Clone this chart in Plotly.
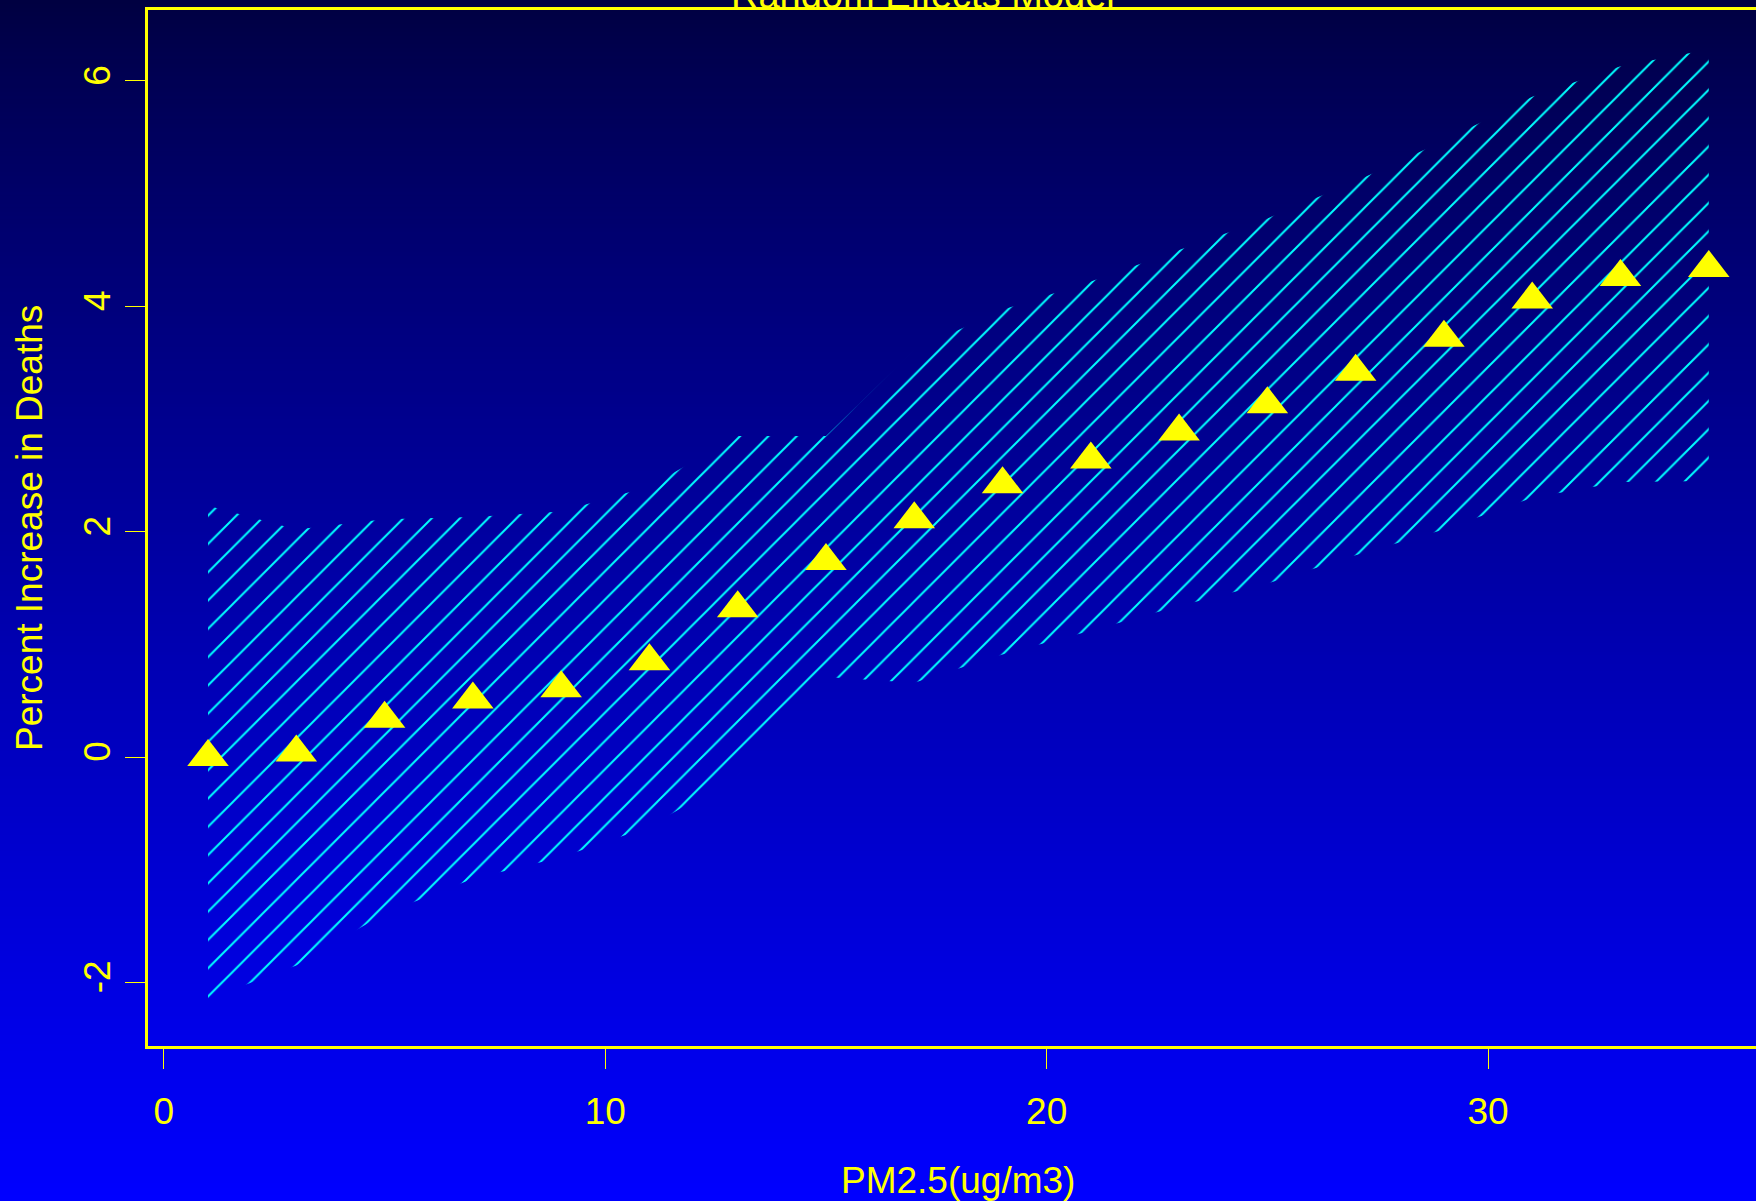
import plotly.graph_objects as go

# ---------------- data ----------------
pm25 = [1, 3, 5, 7, 9, 11, 13, 15, 17, 19, 21, 23, 25, 27, 29, 31, 33, 35]
pct_increase = [0.0, 0.04, 0.34, 0.51, 0.61, 0.85, 1.32, 1.74, 2.11, 2.42,
                2.64, 2.89, 3.13, 3.42, 3.72, 4.06, 4.26, 4.34]
upper_ci = [2.23, 2.02, 2.11, 2.13, 2.18, 2.40, 2.85, 2.85, 3.61, 3.97,
            4.22, 4.50, 4.78, 5.11, 5.47, 5.86, 6.13, 6.28]
lower_ci = [-2.15, -1.85, -1.39, -1.08, -0.89, -0.62, -0.16, 0.71, 0.66, 0.91,
            1.12, 1.34, 1.54, 1.79, 2.02, 2.30, 2.44, 2.45]
x_ticks = [0, 10, 20, 30]
y_ticks = [-2, 0, 2, 4, 6]

title_text = "Random Effects Model"
x_title = "PM2.5(ug/m3)"
y_title = "Percent Increase in Deaths"

# ---------------- layout geometry ----------------
W, H = 1756, 1201
ML, MR, MT, MB = 148, 0, 10, 155
PLOT_H = H - MT - MB
PLOT_W = W - ML - MR
YELLOW = "#FFFF00"
CYAN = "#00FFFF"
FONT = "Liberation Sans, Arial, Helvetica, sans-serif"

fig = go.Figure()

# confidence band (hatched polygon)
fig.add_trace(go.Scatter(
    x=pm25 + pm25[::-1],
    y=upper_ci + lower_ci[::-1],
    fill="toself",
    mode="none",
    fillcolor="rgba(0,0,0,0)",
    fillpattern=dict(shape="/", fgcolor=CYAN, bgcolor="rgba(0,0,0,0)",
                     size=20, solidity=0.1, fgopacity=1),
    hoverinfo="skip",
    showlegend=False,
))

# point estimates
fig.add_trace(go.Scatter(
    x=pm25, y=pct_increase, mode="markers",
    marker=dict(symbol="triangle-up", size=36, color=YELLOW, line=dict(width=0)),
    showlegend=False,
))

# ---------------- background gradient ----------------
shapes = []
band = 4
def px_to_paper_y(py):
    return (H - MB - py) / PLOT_H
for py in range(0, H, band):
    t = (py + band / 2) / H
    b = int(round(64 + 191 * (t ** 0.85)))
    shapes.append(dict(
        type="rect", xref="paper", yref="paper", layer="below",
        x0=-ML / PLOT_W - 0.01, x1=1.01,
        y0=px_to_paper_y(py + band + 0.5), y1=px_to_paper_y(py - 0.5),
        fillcolor=f"rgb(0,0,{b})", line=dict(width=0),
    ))

annotations = [
    dict(text=title_text, xref="x", yref="paper", x=17.2, y=1.0,
         xanchor="center", yanchor="middle", yshift=15, showarrow=False,
         font=dict(family=FONT, size=38, color=YELLOW)),
    dict(text=x_title, xref="x", yref="paper", x=18, y=0.0,
         xanchor="center", yanchor="middle", yshift=-134, showarrow=False,
         font=dict(family=FONT, size=37, color=YELLOW)),
    dict(text=y_title, xref="paper", yref="paper", x=0.0, y=0.5,
         xanchor="center", yanchor="middle", xshift=-119, textangle=-90,
         showarrow=False, font=dict(family=FONT, size=37, color=YELLOW)),
]

fig.update_layout(
    width=W, height=H, autosize=False,
    margin=dict(l=ML, r=MR, t=MT, b=MB, pad=0),
    paper_bgcolor="#0000FF",
    plot_bgcolor="rgba(0,0,0,0)",
    shapes=shapes,
    annotations=annotations,
    showlegend=False,
    xaxis=dict(
        range=[-0.36, 36.07], tickvals=x_ticks, ticktext=[str(v) for v in x_ticks],
        ticks="outside", ticklen=20, tickwidth=1, tickcolor=YELLOW,
        showline=True, linecolor=YELLOW, linewidth=3, mirror=True,
        showgrid=False, zeroline=False,
        tickfont=dict(family=FONT, size=37, color=YELLOW),
        ticklabelstandoff=11,
    ),
    yaxis=dict(
        range=[-2.565, 6.63], tickvals=y_ticks, ticktext=[str(v) for v in y_ticks],
        ticks="outside", ticklen=20, tickwidth=1, tickcolor=YELLOW,
        showline=True, linecolor=YELLOW, linewidth=3, mirror=False,
        showgrid=False, zeroline=False, tickangle=-90,
        tickfont=dict(family=FONT, size=37, color=YELLOW),
        ticklabelstandoff=0,
    ),
)

fig.write_html("out.html")
